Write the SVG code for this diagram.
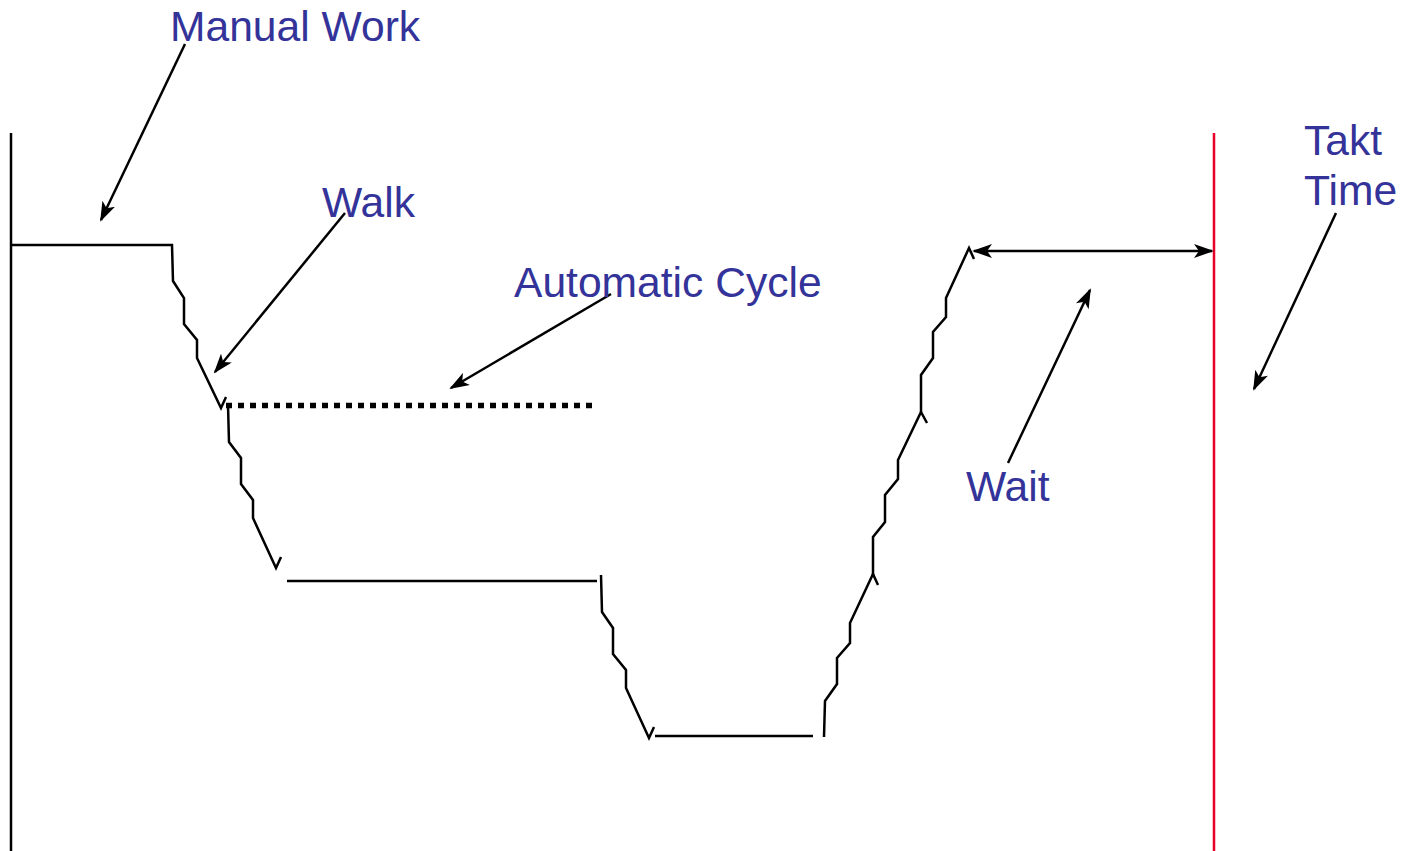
<svg xmlns="http://www.w3.org/2000/svg" width="1406" height="851" viewBox="0 0 1406 851">
<style>
.lbl{font-family:"Liberation Sans",Arial,sans-serif;font-size:42.6px;fill:#333399}
.ln{fill:none;stroke:#000;stroke-width:2.5;stroke-linejoin:miter}
.arr{fill:none;stroke:#000;stroke-width:2.5}
</style>
<defs>
<marker id="ah" viewBox="0 0 20 14" refX="18" refY="7" markerWidth="20" markerHeight="14" markerUnits="userSpaceOnUse" orient="auto-start-reverse">
<path d="M0,0 L20,7 L0,14 L5,7 Z" fill="#000"/>
</marker>
</defs>
<rect width="1406" height="851" fill="#fff"/>
<g id="axis-left"><line x1="11" y1="133" x2="11" y2="851" stroke="#000" stroke-width="2.5"/></g>
<g id="takt-line"><line x1="1214" y1="133" x2="1214" y2="851" stroke="#e8002a" stroke-width="2.5"/></g>
<g id="work-path">
<polyline class="ln" points="11,245 172,245 173,281 184,298 184,324 197,340 197,358 221,408 226,397"/>
<polyline class="ln" points="228,405 229,442 241,458 241,484 253,500 253,518 276,568 281,557"/>
<line class="ln" x1="287" y1="581" x2="597" y2="581"/>
<polyline class="ln" points="601,575 602,612 613,628 613,654 626,670 626,688 649,738 654,727"/>
<line class="ln" x1="655" y1="736" x2="813" y2="736"/>
<polyline class="ln" points="824,737 825,701 837,684 837,658 850,643 850,623 873,574 878,585"/>
<polyline class="ln" points="873,575 873,537 885,522 885,495 898,479 898,460 921,412 927,423"/>
<polyline class="ln" points="921,412 921,375 933,358 933,332 946,317 946,298 969,248 974,259"/>
</g>
<g id="auto-cycle"><line x1="226" y1="405.5" x2="592" y2="405.5" stroke="#000" stroke-width="5.5" stroke-dasharray="6,6"/></g>
<g id="connectors">
<line class="arr" x1="185" y1="44" x2="101" y2="220" marker-end="url(#ah)"/>
<line class="arr" x1="345" y1="213" x2="215" y2="372" marker-end="url(#ah)"/>
<line class="arr" x1="611" y1="294" x2="451" y2="388" marker-end="url(#ah)"/>
<line class="arr" x1="1336" y1="213" x2="1254" y2="389" marker-end="url(#ah)"/>
<line class="arr" x1="1008" y1="463" x2="1090" y2="290" marker-end="url(#ah)"/>
<line class="arr" x1="974" y1="251" x2="1212" y2="251" marker-start="url(#ah)" marker-end="url(#ah)"/>
</g>
<g id="label-manual"><text class="lbl" x="170" y="41">Manual Work</text></g>
<g id="label-walk"><text class="lbl" x="322" y="217">Walk</text></g>
<g id="label-auto"><text class="lbl" x="514" y="297">Automatic Cycle</text></g>
<g id="label-takt"><text class="lbl" x="1304" y="155">Takt</text><text class="lbl" x="1304" y="205">Time</text></g>
<g id="label-wait"><text class="lbl" x="966" y="501">Wait</text></g>
</svg>
